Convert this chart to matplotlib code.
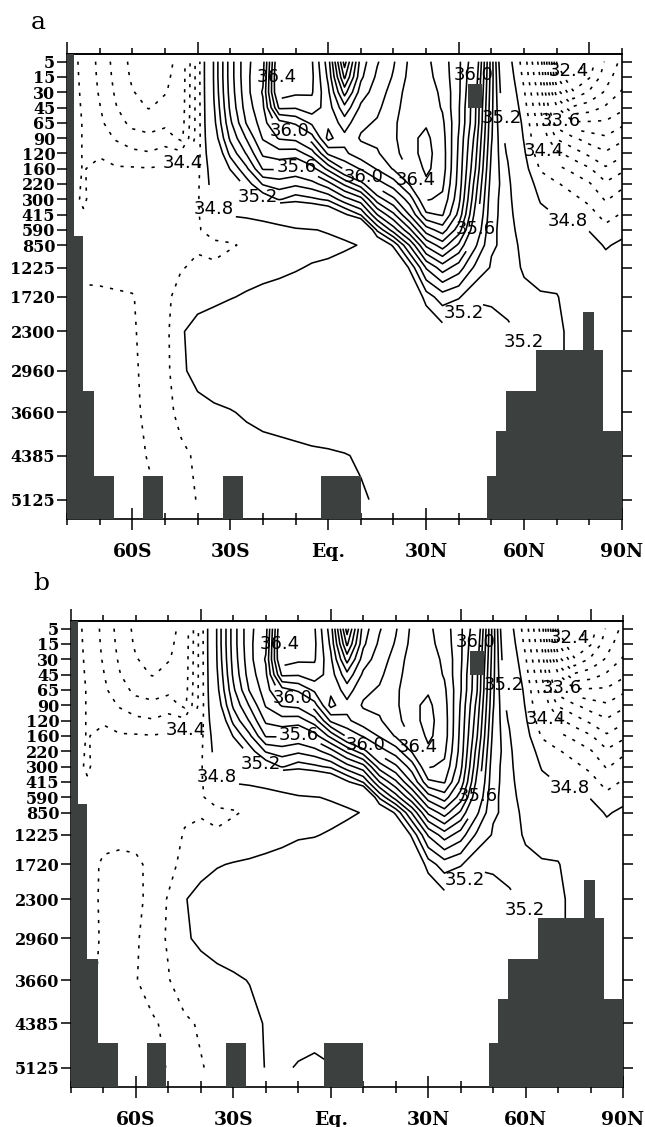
import numpy as np
import matplotlib
matplotlib.use("Agg")
import matplotlib.pyplot as plt

# model levels (m) and latitude nodes
depths = [5, 15, 30, 45, 65, 90, 120, 160, 220, 300, 415, 590, 850,
          1225, 1720, 2300, 2960, 3660, 4385, 5125]
lats = list(range(-80, 91, 5))

# zonal mean salinity, one profile (surface -> bottom) per latitude
sal_south = [  # 80S .. 40S
    [34.5, 34.5, 34.5, 34.5, 34.5, 34.5, 34.5, 34.5, 34.5, 34.5, 34.52, 34.55, 34.55, 34.48, 34.38, 34.35, 34.34, 34.33, 34.32, 34.31],
    [34.35, 34.36, 34.37, 34.38, 34.39, 34.39, 34.39, 34.39, 34.38, 34.37, 34.42, 34.48, 34.5, 34.44, 34.37, 34.35, 34.34, 34.33, 34.32, 34.31],
    [34.15, 34.16, 34.18, 34.21, 34.24, 34.3, 34.38, 34.45, 34.5, 34.52, 34.53, 34.54, 34.52, 34.45, 34.37, 34.35, 34.34, 34.33, 34.32, 34.31],
    [33.92, 33.94, 33.97, 34.01, 34.08, 34.18, 34.3, 34.42, 34.48, 34.52, 34.54, 34.55, 34.53, 34.46, 34.38, 34.36, 34.35, 34.34, 34.33, 34.32],
    [33.75, 33.77, 33.81, 33.86, 33.95, 34.08, 34.25, 34.42, 34.5, 34.53, 34.55, 34.56, 34.55, 34.47, 34.39, 34.38, 34.37, 34.36, 34.35, 34.33],
    [33.7, 33.72, 33.74, 33.79, 33.9, 34.05, 34.22, 34.41, 34.48, 34.52, 34.55, 34.56, 34.56, 34.52, 34.47, 34.46, 34.45, 34.44, 34.41, 34.37],
    [33.75, 33.77, 33.79, 33.85, 33.95, 34.1, 34.28, 34.43, 34.5, 34.54, 34.56, 34.57, 34.57, 34.56, 34.55, 34.54, 34.53, 34.53, 34.48, 34.43],
    [33.85, 33.86, 33.87, 33.88, 33.9, 33.95, 34.25, 34.45, 34.52, 34.56, 34.57, 34.57, 34.58, 34.59, 34.68, 34.78, 34.77, 34.66, 34.56, 34.52],
    [34.5, 34.5, 34.5, 34.5, 34.5, 34.5, 34.52, 34.55, 34.57, 34.58, 34.58, 34.58, 34.58, 34.63, 34.72, 34.88, 34.86, 34.74, 34.63, 34.61],
]
sal_tropics = [  # 35S .. 10N
    [35.22, 35.22, 35.21, 35.19, 35.17, 35.13, 35.05, 34.95, 34.9, 34.84, 34.78, 34.68, 34.56, 34.62, 34.76, 34.9, 34.9, 34.77, 34.68, 34.64],
    [35.55, 35.55, 35.54, 35.52, 35.48, 35.42, 35.33, 35.21, 35.05, 34.9, 34.81, 34.7, 34.58, 34.68, 34.79, 34.94, 34.92, 34.79, 34.71, 34.67],
    [35.78, 35.78, 35.77, 35.75, 35.71, 35.61, 35.51, 35.38, 35.25, 35.05, 34.82, 34.73, 34.63, 34.72, 34.82, 34.95, 34.93, 34.82, 34.73, 34.69],
    [35.86, 35.88, 35.91, 35.88, 35.85, 35.81, 35.72, 35.61, 35.41, 35.22, 34.83, 34.76, 34.68, 34.75, 34.84, 34.95, 34.94, 34.84, 34.75, 34.71],
    [36.45, 36.48, 36.46, 36.32, 36.06, 35.91, 35.76, 35.61, 35.45, 35.31, 34.86, 34.77, 34.72, 34.77, 34.85, 34.95, 34.94, 34.85, 34.76, 34.73],
    [36.43, 36.44, 36.42, 36.31, 36.12, 35.93, 35.75, 35.58, 35.42, 35.25, 34.92, 34.785, 34.75, 34.79, 34.86, 34.96, 34.95, 34.86, 34.77, 34.75],
    [36.41, 36.42, 36.41, 36.36, 36.22, 36.06, 35.85, 35.66, 35.46, 35.28, 34.98, 34.795, 34.76, 34.81, 34.87, 34.96, 34.95, 34.87, 34.78, 34.76],
    [36.15, 36.18, 36.22, 36.25, 36.28, 36.33, 36.12, 35.83, 35.56, 35.32, 35.05, 34.81, 34.77, 34.82, 34.88, 34.96, 34.95, 34.88, 34.785, 34.77],
    [35.55, 35.68, 35.86, 36.03, 36.15, 36.23, 36.18, 36.02, 35.72, 35.46, 35.18, 34.83, 34.785, 34.84, 34.89, 34.96, 34.95, 34.88, 34.795, 34.78],
    [36.05, 36.08, 36.15, 36.22, 36.28, 36.31, 36.26, 36.11, 35.86, 35.56, 35.31, 34.9, 34.805, 34.85, 34.9, 34.96, 34.95, 34.89, 34.81, 34.79],
]
sal_north = [  # 15N .. 50N
    [36.19, 36.22, 36.25, 36.28, 36.31, 36.32, 36.29, 36.21, 36.05, 35.85, 35.6, 35.32, 35.05, 34.9, 34.92, 34.95, 34.95, 34.9, 34.83, 34.81],
    [36.29, 36.31, 36.34, 36.36, 36.38, 36.38, 36.36, 36.31, 36.15, 35.98, 35.78, 35.55, 35.22, 35.0, 34.94, 34.95, 34.95, 34.92, 34.86, 34.83],
    [36.42, 36.43, 36.45, 36.46, 36.47, 36.48, 36.47, 36.42, 36.31, 36.15, 36.01, 35.78, 35.51, 35.22, 35.02, 34.96, 34.95, 34.93, 34.88, 34.85],
    [36.42, 36.43, 36.45, 36.47, 36.49, 36.52, 36.53, 36.52, 36.48, 36.41, 36.28, 36.05, 35.82, 35.51, 35.25, 35.05, 34.96, 34.93, 34.89, 34.86],
    [36.35, 36.36, 36.38, 36.39, 36.42, 36.44, 36.45, 36.45, 36.42, 36.38, 36.31, 36.15, 35.95, 35.65, 35.35, 35.15, 34.98, 34.94, 34.9, 34.87],
    [36.22, 36.22, 36.22, 36.21, 36.21, 36.19, 36.18, 36.17, 36.16, 36.13, 36.07, 35.95, 35.78, 35.55, 35.31, 35.12, 34.98, 34.94, 34.9, 34.87],
    [36.02, 35.98, 35.95, 35.92, 35.91, 35.87, 35.84, 35.81, 35.76, 35.72, 35.67, 35.61, 35.52, 35.38, 35.22, 35.1, 34.98, 34.93, 34.9, 34.88],
    [35.45, 35.45, 35.44, 35.43, 35.42, 35.41, 35.39, 35.37, 35.35, 35.33, 35.32, 35.31, 35.31, 35.29, 35.24, 35.1, 34.98, 34.94, 34.9, 34.88],
]
sal_arctic = [  # 55N .. 90N
    [34.9, 34.95, 35.0, 35.05, 35.1, 35.14, 35.18, 35.22, 35.25, 35.26, 35.27, 35.28, 35.28, 35.27, 35.24, 35.18, 35.1, 35.05, 35.0, 34.95],
    [34.5, 34.55, 34.62, 34.68, 34.74, 34.78, 34.83, 34.88, 34.95, 35.0, 35.05, 35.1, 35.15, 35.18, 35.24, 35.22, 35.15, 35.1, 35.1, 35.1],
    [33.9, 33.98, 34.1, 34.19, 34.3, 34.38, 34.46, 34.58, 34.7, 34.78, 34.86, 34.95, 35.02, 35.12, 35.22, 35.25, 35.19, 35.15, 35.15, 35.15],
    [32.58, 32.82, 33.1, 33.42, 33.7, 33.98, 34.25, 34.45, 34.62, 34.72, 34.79, 34.88, 34.95, 35.12, 35.21, 35.24, 35.24, 35.2, 35.2, 35.2],
    [32.22, 32.33, 32.63, 33.03, 33.43, 33.83, 34.1, 34.35, 34.52, 34.65, 34.75, 34.84, 34.92, 35.03, 35.12, 35.15, 35.15, 35.1, 35.1, 35.1],
    [32.48, 32.58, 32.83, 33.1, 33.43, 33.7, 33.95, 34.22, 34.42, 34.55, 34.68, 34.79, 34.88, 34.95, 35.0, 35.0, 35.0, 35.0, 35.0, 35.0],
    [32.83, 32.92, 33.03, 33.23, 33.43, 33.63, 33.83, 34.03, 34.23, 34.38, 34.52, 34.66, 34.78, 34.88, 34.94, 34.96, 34.96, 34.96, 34.96, 34.96],
    [33.05, 33.12, 33.22, 33.35, 33.55, 33.75, 33.95, 34.15, 34.35, 34.5, 34.62, 34.74, 34.84, 34.9, 34.94, 34.95, 34.95, 34.95, 34.95, 34.95],
]

# panel b: deep water (1225 m and below), 80S .. 10N
deep_b = [
    [34.45, 34.45, 34.5, 34.5, 34.5, 34.5, 34.5],
    [34.45, 34.45, 34.48, 34.48, 34.45, 34.45, 34.45],
    [34.44, 34.38, 34.36, 34.37, 34.36, 34.35, 34.35],
    [34.44, 34.36, 34.33, 34.34, 34.34, 34.33, 34.33],
    [34.45, 34.37, 34.36, 34.37, 34.39, 34.35, 34.34],
    [34.48, 34.44, 34.45, 34.52, 34.5, 34.37, 34.35],
    [34.54, 34.52, 34.62, 34.62, 34.59, 34.45, 34.41],
    [34.61, 34.68, 34.79, 34.78, 34.7, 34.57, 34.52],
    [34.66, 34.74, 34.86, 34.83, 34.73, 34.62, 34.59],
    [34.62, 34.79, 34.88, 34.86, 34.76, 34.68, 34.64],
    [34.68, 34.81, 34.9, 34.88, 34.78, 34.72, 34.69],
    [34.72, 34.82, 34.91, 34.89, 34.805, 34.76, 34.75],
    [34.75, 34.83, 34.92, 34.9, 34.82, 34.81, 34.805],
    [34.77, 34.84, 34.93, 34.91, 34.84, 34.83, 34.81],
    [34.79, 34.85, 34.94, 34.92, 34.85, 34.83, 34.795],
    [34.795, 34.86, 34.95, 34.93, 34.86, 34.82, 34.79],
    [34.81, 34.87, 34.95, 34.93, 34.87, 34.82, 34.798],
    [34.83, 34.88, 34.95, 34.93, 34.88, 34.83, 34.81],
    [34.85, 34.89, 34.96, 34.94, 34.89, 34.83, 34.81],
]

# sea floor: latitude edges and floor depth (m) of each step
floor_edges = [-80, -78, -75, -71.7, -65.6, -56.7, -50.6, -32.2, -26.0, -2.2,
               10.0, 48.6, 51.4, 54.5, 63.7, 78.0, 81.4, 84.2, 90]
floor_depth = [0, 700, 3300, 4720, 5450, 4720, 5450, 4720, 5450, 4720,
               5450, 4720, 3980, 3300, 2610, 1980, 2610, 3980]
sill_lat = [42.8, 47.1]
sill_depth = [22, 45]

lat_ticks = [-60, -30, 0, 30, 60, 90]
lat_labels = ['60S', '30S', 'Eq.', '30N', '60N', '90N']

# contour labels: value, latitude, depth
label_vals = [36.4, 36.0, 35.6, 35.2, 34.8, 34.4, 36.0, 36.4, 35.6,
              35.2, 35.2, 36.0, 35.2, 34.4, 33.6, 32.4, 34.8]
label_lats = [-15, -11, -9, -22, -40, -44, 11, 30, 47,
              39, 62, 42.5, 51, 63, 71.6, 71.6, 74]
label_deps = [15, 60, 140, 300, 415, 150, 190, 170, 590,
              1810, 2380, 13, 60, 128, 60, 13, 430]

LAND = '#3c413f'


def zpos(d):
    # level index in the upper 850 m, linear in depth below
    d = np.asarray(d, dtype=float)
    upper = np.interp(d, [0] + depths[:13], [-0.5] + list(range(13)))
    return np.where(d <= 850, upper, 12 + (d - 850) / 257.0)


def draw_panel(ax, sal):
    X, Y = np.meshgrid(lats, zpos(depths))
    Z = np.array(sal).T
    dashed = np.round(np.arange(32.0, 34.61, 0.2), 1)
    solid = np.round(np.r_[34.8, np.arange(35.2, 37.01, 0.1)], 1)

    # one contour set per level, so each label lands on its own value
    sets = {}
    for lev in list(dashed) + list(solid):
        if not Z.min() < lev < Z.max():
            continue
        style = [(0, (2.0, 4.5))] if lev < 34.7 else 'solid'
        sets[round(float(lev), 1)] = ax.contour(X, Y, Z, levels=[lev], colors='k',
                                                linewidths=1.15, linestyles=style)

    ax.stairs(zpos(floor_depth), floor_edges, baseline=31, fill=True,
              color=LAND, zorder=3)
    ax.fill_between(sill_lat, float(zpos(sill_depth[0])), float(zpos(sill_depth[1])),
                    color=LAND, lw=0, zorder=3)

    for v, la, de in zip(label_vals, label_lats, label_deps):
        texts = ax.clabel(sets[round(v, 1)], manual=[(la, float(zpos(de)))],
                          inline=True, inline_spacing=3, fmt='%.1f', fontsize=13)
        for t in texts:
            t.set_rotation(0)
            t.set_family('DejaVu Sans')

    ax.set_xlim(-80, 90)
    ax.set_ylim(29.9, -0.5)
    ax.set_xticks(lat_ticks)
    ax.set_xticklabels(lat_labels, family='DejaVu Serif', fontsize=13.5,
                       fontweight='bold')
    ax.set_xticks(range(-80, 91, 10), minor=True)
    ax.set_yticks(zpos(depths))
    ax.set_yticklabels([str(d) for d in depths], family='DejaVu Serif',
                       fontsize=11.5, fontweight='bold')
    ax.tick_params(axis='x', which='major', direction='inout', length=16.5,
                   width=1.1, pad=9, top=False)
    ax.tick_params(axis='x', which='minor', direction='inout', length=8,
                   width=1.1, top=False)
    ax.tick_params(axis='y', which='major', direction='out', length=7,
                   width=1.1, pad=1.5, left=True, right=True)
    for sp in ax.spines.values():
        sp.set_linewidth(1.2)

    top = ax.secondary_xaxis('top')
    top.set_xticks([-80, -40, 0, 40, 80])
    top.set_xticks(range(-80, 91, 10), minor=True)
    top.set_xticklabels([])
    top.tick_params(which='major', direction='out', length=8.5, width=1.1)
    top.tick_params(which='minor', direction='out', length=4.3, width=1.1)
    top.spines['top'].set_linewidth(1.2)


sal_a = sal_south + sal_tropics + sal_north + sal_arctic
sal_b = [list(col) for col in sal_a]
for i, col in enumerate(deep_b):
    sal_b[i][13:] = col

fig = plt.figure(figsize=(6.45, 11.27), dpi=100)
ax_a = fig.add_axes([0.1039, 0.5395, 0.8605, 0.4126])
ax_b = fig.add_axes([0.1101, 0.0355, 0.8558, 0.4135])
draw_panel(ax_a, sal_a)
draw_panel(ax_b, sal_b)

fig.text(0.060, 0.980, 'a', family='DejaVu Serif', fontsize=18, ha='center', va='center')
fig.text(0.064, 0.482, 'b', family='DejaVu Serif', fontsize=18, ha='center', va='center')

fig.savefig('out.png', dpi=100)
